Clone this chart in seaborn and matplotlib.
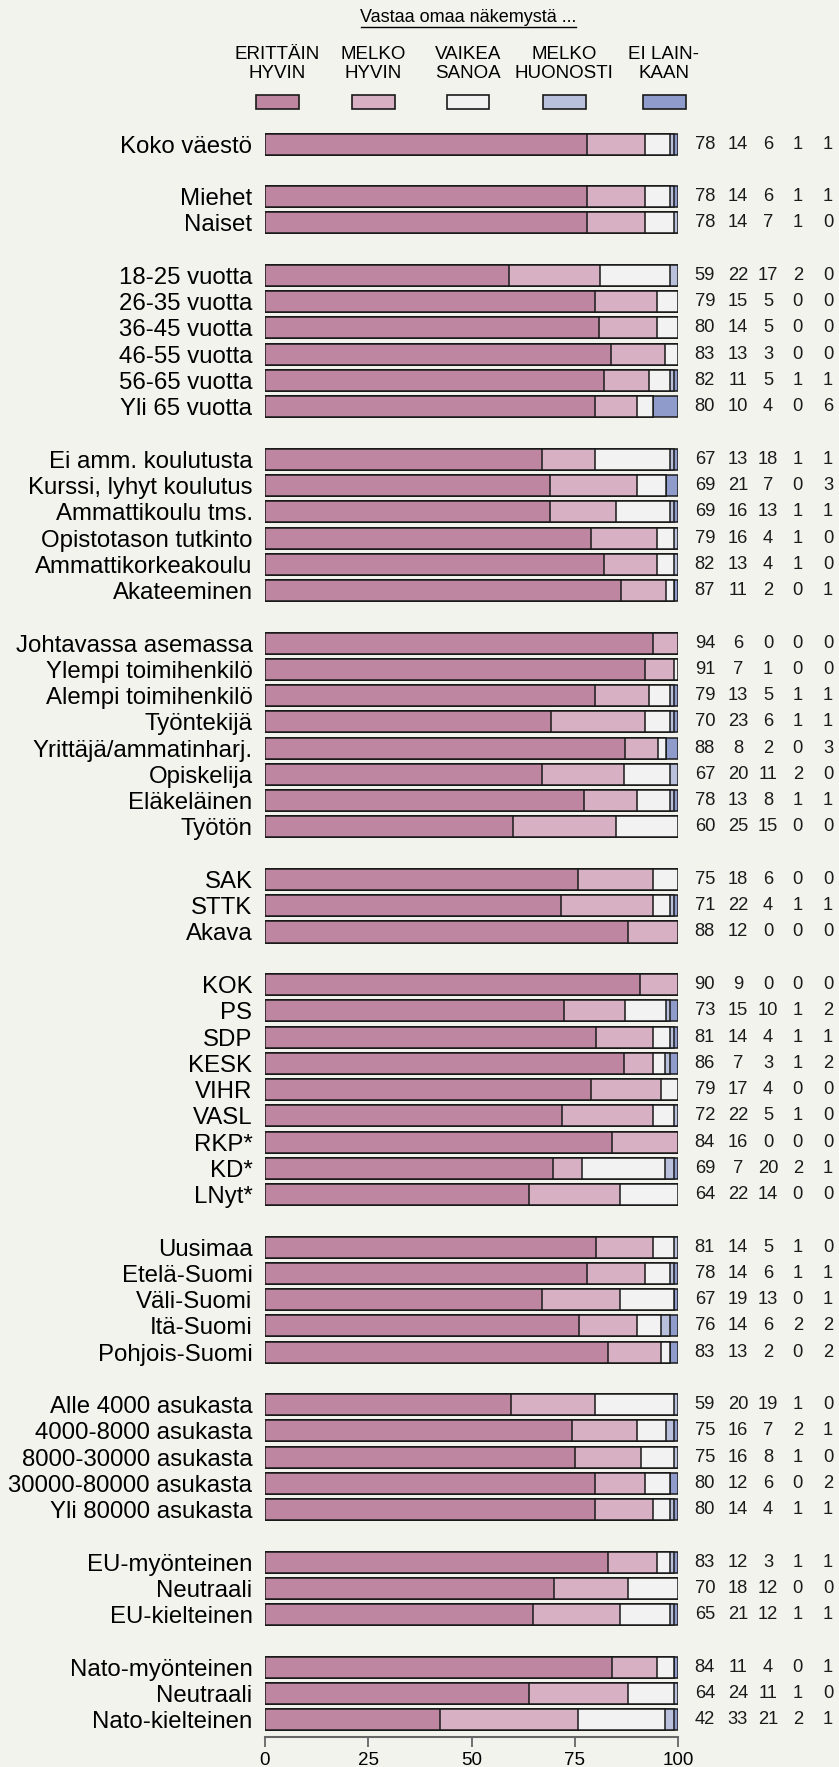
import numpy as np
import pandas as pd
import matplotlib.pyplot as plt
import seaborn as sns
from matplotlib.patches import Rectangle
from matplotlib.lines import Line2D

# Response categories and colours
answers = ["ERITTÄIN\nHYVIN", "MELKO\nHYVIN", "VAIKEA\nSANOA", "MELKO\nHUONOSTI", "EI LAIN-\nKAAN"]
colors = ["#bf86a2", "#d8b0c4", "#f2f2f2", "#b8c0dc", "#8e9bcb"]

# Row groups (a blank slot is left between groups)
groups = [
    ["Koko väestö"],
    ["Miehet", "Naiset"],
    ["18-25 vuotta", "26-35 vuotta", "36-45 vuotta", "46-55 vuotta", "56-65 vuotta", "Yli 65 vuotta"],
    ["Ei amm. koulutusta", "Kurssi, lyhyt koulutus", "Ammattikoulu tms.", "Opistotason tutkinto",
     "Ammattikorkeakoulu", "Akateeminen"],
    ["Johtavassa asemassa", "Ylempi toimihenkilö", "Alempi toimihenkilö", "Työntekijä",
     "Yrittäjä/ammatinharj.", "Opiskelija", "Eläkeläinen", "Työtön"],
    ["SAK", "STTK", "Akava"],
    ["KOK", "PS", "SDP", "KESK", "VIHR", "VASL", "RKP*", "KD*", "LNyt*"],
    ["Uusimaa", "Etelä-Suomi", "Väli-Suomi", "Itä-Suomi", "Pohjois-Suomi"],
    ["Alle 4000 asukasta", "4000-8000 asukasta", "8000-30000 asukasta", "30000-80000 asukasta",
     "Yli 80000 asukasta"],
    ["EU-myönteinen", "Neutraali", "EU-kielteinen"],
    ["Nato-myönteinen", "Neutraali", "Nato-kielteinen"],
]

erittain = [78, 78, 78, 59, 79, 80, 83, 82, 80, 67, 69, 69, 79, 82, 87, 94, 91, 79, 70, 88, 67, 78, 60,
            75, 71, 88, 90, 73, 81, 86, 79, 72, 84, 69, 64, 81, 78, 67, 76, 83, 59, 75, 75, 80, 80,
            83, 70, 65, 84, 64, 42]
melko_hyvin = [14, 14, 14, 22, 15, 14, 13, 11, 10, 13, 21, 16, 16, 13, 11, 6, 7, 13, 23, 8, 20, 13, 25,
               18, 22, 12, 9, 15, 14, 7, 17, 22, 16, 7, 22, 14, 14, 19, 14, 13, 20, 16, 16, 12, 14,
               12, 18, 21, 11, 24, 33]
vaikea = [6, 6, 7, 17, 5, 5, 3, 5, 4, 18, 7, 13, 4, 4, 2, 0, 1, 5, 6, 2, 11, 8, 15,
          6, 4, 0, 0, 10, 4, 3, 4, 5, 0, 20, 14, 5, 6, 13, 6, 2, 19, 7, 8, 6, 4,
          3, 12, 12, 4, 11, 21]
melko_huonosti = [1, 1, 1, 2, 0, 0, 0, 1, 0, 1, 0, 1, 1, 1, 0, 0, 0, 1, 1, 0, 2, 1, 0,
                  0, 1, 0, 0, 1, 1, 1, 0, 1, 0, 2, 0, 1, 1, 0, 2, 0, 1, 2, 1, 0, 1,
                  1, 0, 1, 0, 1, 2]
ei_lainkaan = [1, 1, 0, 0, 0, 0, 0, 1, 6, 1, 3, 1, 0, 0, 1, 0, 0, 1, 1, 3, 0, 1, 0,
               0, 1, 0, 0, 2, 1, 2, 0, 0, 0, 1, 0, 0, 1, 1, 2, 2, 0, 1, 0, 2, 1,
               1, 0, 1, 1, 0, 1]

# slot positions with blank rows between groups
labels, pos = [], []
slot = 0
for g in groups:
    for lab in g:
        labels.append(lab)
        pos.append(slot)
        slot += 1
    slot += 1
last = pos[-1]

vals = np.array([erittain, melko_hyvin, vaikea, melko_huonosti, ei_lainkaan], dtype=float).T
shares = vals / vals.sum(axis=1, keepdims=True) * 100
cum = np.cumsum(shares, axis=1)

df = pd.DataFrame(cum, columns=[f"c{i}" for i in range(5)])
df["pos"] = pos

bg = "#f3f3ee"
plt.rcParams["font.family"] = ["Liberation Sans", "DejaVu Sans"]

W, H = 839, 1767
fig = plt.figure(figsize=(W / 100, H / 100), dpi=100, facecolor=bg)
ax_left, ax_right = 265 / W, 678 / W
ax_top, ax_bot = 131 / H, 1733 / H
ax = fig.add_axes([ax_left, 1 - ax_bot, ax_right - ax_left, ax_bot - ax_top])
ax.set_facecolor(bg)

# stacked bars: draw cumulative totals from longest to shortest
for i in range(4, -1, -1):
    sns.barplot(data=df, x=f"c{i}", y="pos", orient="h", native_scale=True,
                color=colors[i], saturation=1, width=0.8, edgecolor="#1a1a1a",
                linewidth=1.1, ax=ax)

ax.set_ylim(last + 0.5, -0.5)
ax.set_xlim(0, 100)
ax.set_yticks(pos)
ax.set_yticklabels(labels)
ax.tick_params(axis="y", length=0, pad=9, labelsize=17.3)
ax.set_xticks([0, 25, 50, 75, 100])
ax.set_xticklabels(["0", "25", "50", "75", "100"])
ax.tick_params(axis="x", length=7, width=1.3, color="#666666", pad=4, labelsize=13.5)
ax.set_xlabel("")
ax.set_ylabel("")
for s in ["top", "right", "left"]:
    ax.spines[s].set_visible(False)
ax.spines["bottom"].set_color("#666666")
ax.spines["bottom"].set_linewidth(1.5)
ax.spines["bottom"].set_position(("outward", 3))

# value columns at right
col_x = [106.5, 114.5, 121.8, 129.0, 136.3]
for r in range(len(labels)):
    for j in range(5):
        ax.text(col_x[j], pos[r], str(int(vals[r, j])), ha="center", va="center",
                fontsize=13.2, color="#1a1a1a", clip_on=False)

# legend above the chart
fig.text(468 / W, 1 - 18 / H, "Vastaa omaa näkemystä ...", ha="center", va="center", fontsize=13)
fig.add_artist(Line2D([361 / W, 576 / W], [1 - 27 / H, 1 - 27 / H], color="black", lw=1,
                      transform=fig.transFigure))
leg_x = [277, 373, 468, 564, 664]
for x, lab, c in zip(leg_x, answers, colors):
    fig.text(x / W, 1 - 64 / H, lab, ha="center", va="center", fontsize=13.5, linespacing=1.15)
    fig.add_artist(Rectangle(((x - 21.5) / W, 1 - 109 / H), 43 / W, 14 / H, facecolor=c,
                             edgecolor="#1a1a1a", lw=1.2, transform=fig.transFigure))

fig.savefig("out.png", dpi=100, facecolor=bg)
